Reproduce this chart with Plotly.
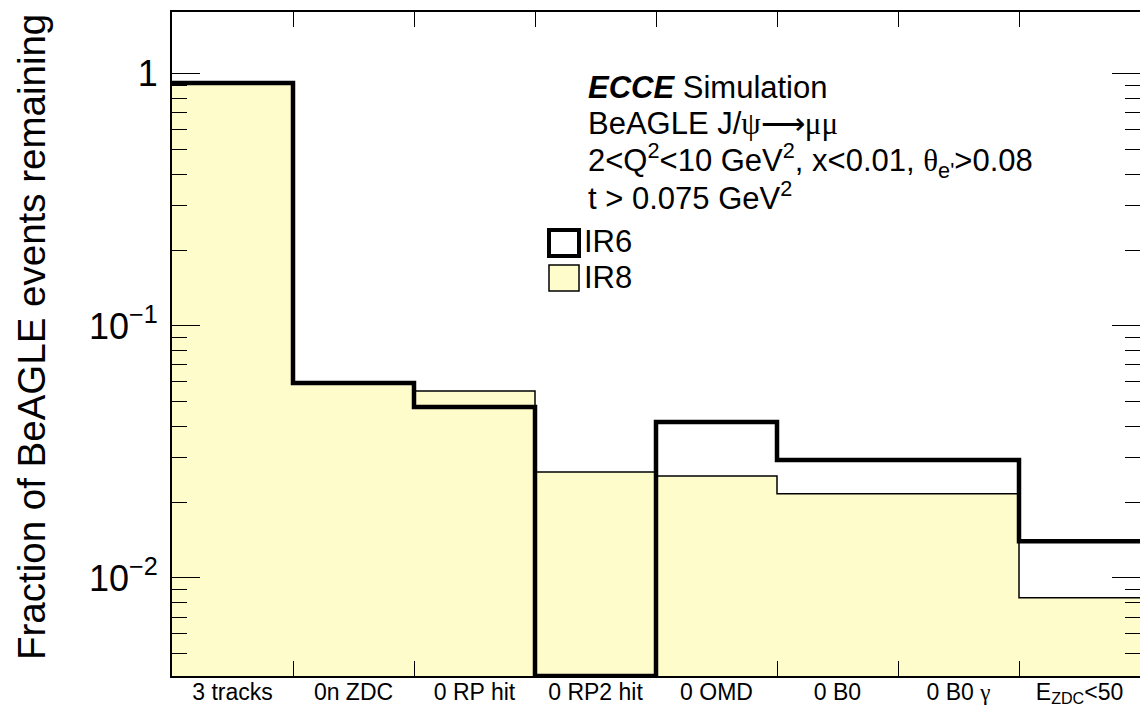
import numpy as np
import plotly.graph_objects as go

SERIF = "<span style='font-family:Liberation Serif, Times New Roman, serif'>{}</span>"

# ---- data ----
categories = ["3 tracks", "0n ZDC", "0 RP hit", "0 RP2 hit", "0 OMD", "0 B0",
              "0 B0 " + SERIF.format("γ"), "E<sub>ZDC</sub>&lt;50"]
ir6 = [0.921, 0.0594, 0.0477, 0.0, 0.0416, 0.0294, 0.0294, 0.0140]
ir8 = [0.921, 0.0594, 0.0552, 0.0263, 0.0254, 0.0216, 0.0216, 0.00834]
y_ticks = [0.01, 0.1, 1]
y_ticktext = ["10<sup>−2</sup>", "10<sup>−1</sup>", "1"]

# ---- style / layout constants ----
W, H = 1140, 711
L, R, T, B = 172, 0, 12, 35
Y_RANGE = [-2.389, 0.2455]
FILL = "#FFFCCC"
FONT = "Liberation Sans, Arial, Helvetica, sans-serif"

n = len(categories)
edges = np.arange(n + 1)
centers = edges[:-1] + 0.5
floor = 10 ** Y_RANGE[0]


def step(vals):
    v = [max(x, floor * 1.0001) for x in vals]
    return list(edges), v + [v[-1]]


fig = go.Figure()

# IR8 filled histogram
fig.add_trace(go.Bar(x=centers, y=ir8, width=1.0, marker=dict(color=FILL, line=dict(width=0)),
                     showlegend=False, hoverinfo="skip"))
x8, y8 = step(ir8)
fig.add_trace(go.Scatter(x=x8, y=y8, mode="lines", line=dict(color="black", width=1.5, shape="hv"),
                         showlegend=False, hoverinfo="skip"))
x6, y6 = step(ir6)
fig.add_trace(go.Scatter(x=x6, y=y6, mode="lines", line=dict(color="black", width=4.5, shape="hv"),
                         showlegend=False, hoverinfo="skip"))

minor_y = [m * 10.0 ** k for k in (-3, -2, -1) for m in range(2, 10)]
minor_y = [v for v in minor_y if floor < v < 10 ** Y_RANGE[1]]

fig.update_layout(
    width=W, height=H,
    margin=dict(l=L, r=R, t=T, b=B, autoexpand=False),
    paper_bgcolor="white", plot_bgcolor="white",
    font=dict(family=FONT, color="black"),
    bargap=0,
    xaxis=dict(
        range=[0, n], showgrid=False, zeroline=False, automargin=False,
        showline=True, linecolor="black", linewidth=2, mirror="allticks",
        tickmode="array", tickvals=list(centers), ticktext=categories,
        ticks="inside", ticklen=0, tickwidth=0, tickfont=dict(size=23, family=FONT),
        minor=dict(tickmode="array", tickvals=list(edges[1:-1]), ticks="inside",
                   ticklen=15, tickwidth=1.2, tickcolor="black", showgrid=False),
        ticklabelstandoff=-6,
    ),
    yaxis=dict(
        type="log", range=Y_RANGE, showgrid=False, zeroline=False, automargin=False,
        showline=True, linecolor="black", linewidth=2, mirror="allticks",
        tickmode="array", tickvals=y_ticks, ticktext=y_ticktext,
        ticks="inside", ticklen=28, tickwidth=1.2, tickcolor="black",
        tickfont=dict(size=36, family=FONT),
        minor=dict(tickmode="array", tickvals=minor_y, ticks="inside",
                   ticklen=15, tickwidth=1.2, tickcolor="black", showgrid=False),
        ticklabelstandoff=5,
    ),
)

pw = W - L - R
ph = H - T - B


def px(x):
    return (x - L) / pw


def py(y):
    return (H - B - y) / ph


# y-axis title
fig.add_annotation(text="Fraction of BeAGLE events remaining", xref="paper", yref="paper",
                   x=px(31), y=py(337), textangle=-90, showarrow=False,
                   xanchor="center", yanchor="middle", font=dict(size=38.5, family=FONT))

lines = [
    "<b><i>ECCE</i></b> Simulation",
    "BeAGLE J/" + SERIF.format("ψ⟶μμ"),
    "2&lt;Q<sup>2</sup>&lt;10 GeV<sup>2</sup>, x&lt;0.01, " + SERIF.format("θ") + "<sub>e'</sub>&gt;0.08",
    "t &gt; 0.075 GeV<sup>2</sup>",
]
for i, t in enumerate(lines):
    fig.add_annotation(text=t, xref="paper", yref="paper", x=px(586), y=py(88 + 36 * i),
                       xanchor="left", yanchor="middle", showarrow=False, align="left",
                       font=dict(size=31, family=FONT))

# legend
fig.add_shape(type="rect", xref="paper", yref="paper", x0=px(549), x1=px(579), y0=py(256), y1=py(230),
              line=dict(color="black", width=4), fillcolor="white")
fig.add_shape(type="rect", xref="paper", yref="paper", x0=px(549), x1=px(579), y0=py(291), y1=py(265),
              line=dict(color="black", width=1.5), fillcolor=FILL)
for lab, yc in (("IR6", 242), ("IR8", 277)):
    fig.add_annotation(text=lab, xref="paper", yref="paper", x=px(582), y=py(yc),
                       xanchor="left", yanchor="middle", showarrow=False,
                       font=dict(size=31, family=FONT))

fig.write_html("out.html")
